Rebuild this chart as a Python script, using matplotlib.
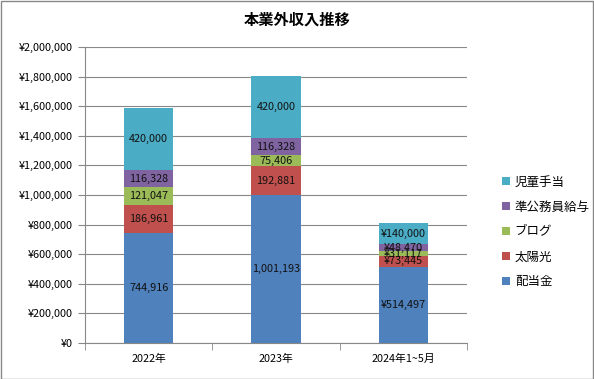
import matplotlib
matplotlib.use('Agg')
import matplotlib.pyplot as plt
from matplotlib.patches import Rectangle
import numpy as np

plt.rcParams['font.family'] = ['Noto Sans CJK JP', 'DejaVu Sans']

categories = ['2022年', '2023年', '2024年1~5月']
series_names = ['配当金', '太陽光', 'ブログ', '準公務員給与', '児童手当']
haitou = [744916, 1001193, 514497]
taiyou = [186961, 192881, 73445]
blog = [121047, 75406, 31117]
kyuyo = [116328, 116328, 48470]
jidou = [420000, 420000, 140000]
yen_label = [False, False, True]

colors = ['#4F81BD', '#C0504D', '#9BBB59', '#8064A2', '#4BACC6']
series = [haitou, taiyou, blog, kyuyo, jidou]

fig = plt.figure(figsize=(5.94, 3.79), dpi=100)
ax = fig.add_axes([85 / 594, 36 / 379, 382 / 594, 296 / 379])

x = np.arange(len(categories))
bottom = np.zeros(len(categories))
for name, vals, col in zip(series_names, series, colors):
    vals = np.array(vals, dtype=float)
    bars = ax.bar(x, vals, 0.39, bottom=bottom, color=col, label=name, zorder=3)
    for i, b in enumerate(bars):
        txt = ('¥{:,.0f}' if yen_label[i] else '{:,.0f}').format(vals[i])
        ax.text(b.get_x() + b.get_width() / 2, bottom[i] + vals[i] / 2, txt,
                ha='center', va='center', fontsize=7.8, color='#111111', zorder=4)
    bottom += vals

ax.set_xlim(-0.5, 2.5)
ax.set_ylim(0, 2000000)
ax.set_yticks(np.arange(0, 2000001, 200000))
ax.set_yticklabels(['¥{:,.0f}'.format(v) for v in np.arange(0, 2000001, 200000)], fontsize=7.8)
ax.yaxis.grid(True, color='#888888', linewidth=0.8, zorder=0)
ax.set_xticks(x)
ax.set_xticklabels(categories, fontsize=7.8)
ax.tick_params(axis='x', length=0, pad=8)
ax.set_xticks([-0.5, 0.5, 1.5, 2.5], minor=True)
ax.tick_params(axis='x', which='minor', length=5, color='#888888', direction='out')
ax.tick_params(axis='y', length=5, color='#888888', direction='out', pad=4)
for s in ['top', 'right']:
    ax.spines[s].set_visible(False)
ax.spines['left'].set_color('#888888')
ax.spines['bottom'].set_color('#888888')

handles, labels = ax.get_legend_handles_labels()
fig.legend(handles[::-1], labels[::-1], loc='center left', bbox_to_anchor=(491 / 594, 1 - 232 / 379),
           frameon=False, fontsize=9, handlelength=0.6, handleheight=0.6,
           handletextpad=0.4, labelspacing=0.95)

fig.text(0.5, 1 - 20 / 379, '本業外収入推移', ha='center', va='center', fontsize=11, fontweight='bold')
fig.add_artist(Rectangle((0.5 / 594, 0.5 / 379), 1 - 1.5 / 594, 1 - 1.5 / 379,
                         transform=fig.transFigure, fill=False, edgecolor='#888888', linewidth=1))

fig.savefig('out.png', dpi=100)
